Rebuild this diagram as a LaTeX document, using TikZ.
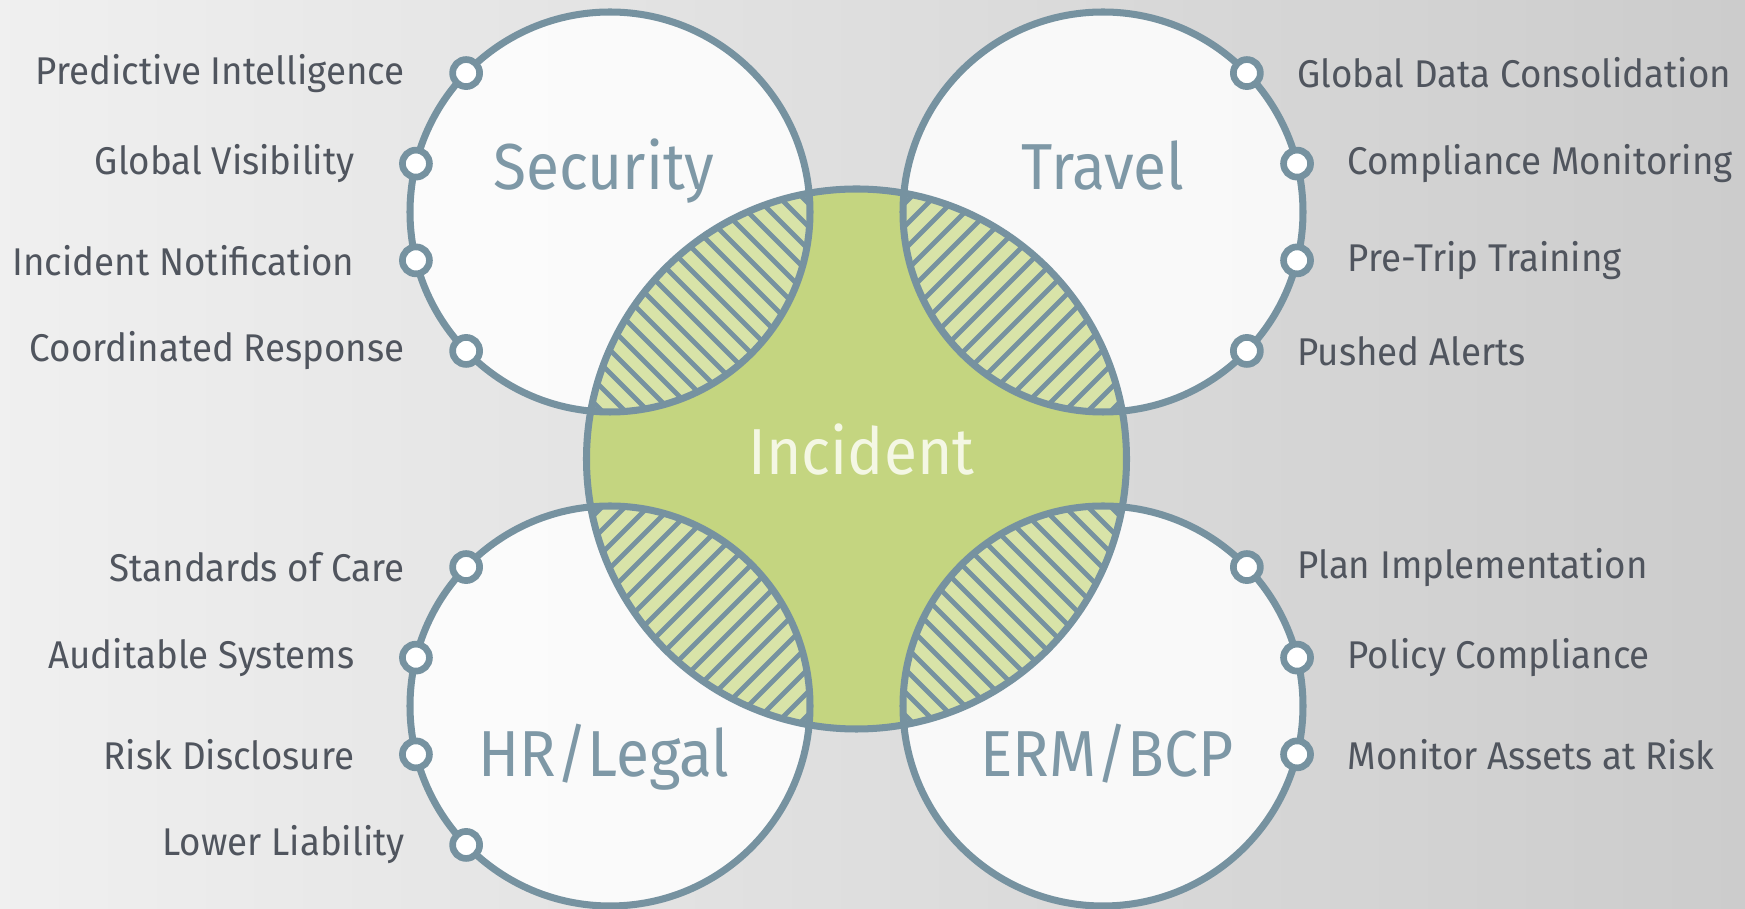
\documentclass[tikz,border=0pt]{standalone}
\usepackage{fontspec}
\setmainfont{Fira Sans}
\newfontfamily\itemfont{Fira Sans}[FakeStretch=0.95]
\newfontfamily\titlefont{Fira Sans}[FakeStretch=0.93]
\usetikzlibrary{positioning,calc}
\definecolor{ringblue}{HTML}{7692A0}
\definecolor{incgreen}{HTML}{C4D580}
\definecolor{hatchgreen}{HTML}{D8E3A8}
\definecolor{labelgray}{HTML}{50555E}
\definecolor{titleblue}{HTML}{7E98A6}
\definecolor{incwhite}{HTML}{F4F7E4}
\tikzset{
  ring/.style={draw=ringblue, line width=2pt},
  dot/.style={circle, draw=ringblue, line width=1.9pt, fill=white, minimum size=0.27cm, inner sep=0pt},
  item/.style={text=labelgray, font=\itemfont\fontsize{11}{13}\selectfont, inner sep=0pt},
  title/.style={text=titleblue, font=\titlefont\fontsize{18.5}{20}\selectfont, inner sep=0pt, anchor=base},
}
\begin{document}
\begin{tikzpicture}
\useasboundingbox (0,0) rectangle (17.45,9.09);
\shade[left color=black!6, right color=black!20] (0,0) rectangle (17.45,9.09);
\coordinate (inc) at (8.565,4.5);
\coordinate (sec) at (6.1,6.97);
\coordinate (trv) at (11.03,6.97);
\coordinate (hrl) at (6.1,2.03);
\coordinate (erm) at (11.03,2.03);
\foreach \c in {sec,trv,hrl,erm}
  \fill[white, opacity=0.85] (\c) circle (2);
\fill[incgreen] (inc) circle (2.7);
\foreach \c/\s in {sec/-1,trv/1,hrl/1,erm/-1}{
  \begin{scope}
    \clip (inc) circle (2.7);
    \clip (\c) circle (2);
    \fill[hatchgreen] (\c) circle (2);
    \foreach \k in {-28,...,28}
      \draw[ringblue, line width=1.4pt] ($(\c)+(\k*0.23-3,-3*\s)$) -- ++(6,6*\s);
  \end{scope}
}
\foreach \c in {sec,trv,hrl,erm}
  \draw[ring] (\c) circle (2);
\draw[ring] (inc) circle (2.7);
\node[title] (sectitle) at ($(sec)+(-0.06,0.22)$) {Security};
\node[title] (trvtitle) at ($(trv)+(0,0.22)$) {Travel};
\node[title] (hrltitle) at ($(hrl)+(-0.06,-0.71)$) {HR/Legal};
\node[title] (ermtitle) at ($(erm)+(0.04,-0.71)$) {ERM/BCP};
\node[title, text=incwhite] (inctitle) at ($(inc)+(0.05,-0.16)$) {Incident};
\foreach \a [count=\i] in {136,166,194,224}{
  \node[dot] (sec\i) at ($(sec)+(\a:2)$) {};
  \node[dot] (hrl\i) at ($(hrl)+(\a:2)$) {};
}
\foreach \a [count=\i] in {44,14,-14,-44}
  \node[dot] (trv\i) at ($(trv)+(\a:2)$) {};
\foreach \a [count=\i] in {44,14,-14}
  \node[dot] (erm\i) at ($(erm)+(\a:2)$) {};
\node[item, left=0.44cm of sec1] (predict) {Predictive Intelligence};
\node[item, left=0.44cm of sec2] (visible) {Global Visibility};
\node[item, left=0.44cm of sec3] (notify) {Incident Notification};
\node[item, left=0.44cm of sec4] (respond) {Coordinated Response};
\node[item, right=0.33cm of trv1] (consol) {Global Data Consolidation};
\node[item, right=0.33cm of trv2] (monitor) {Compliance Monitoring};
\node[item, right=0.33cm of trv3] (pretrip) {Pre-Trip Training};
\node[item, right=0.33cm of trv4] (alerts) {Pushed Alerts};
\node[item, left=0.44cm of hrl1] (care) {Standards of Care};
\node[item, left=0.44cm of hrl2] (audit) {Auditable Systems};
\node[item, left=0.44cm of hrl3] (disclose) {Risk Disclosure};
\node[item, left=0.44cm of hrl4] (liable) {Lower Liability};
\node[item, right=0.33cm of erm1] (plan) {Plan Implementation};
\node[item, right=0.33cm of erm2] (policy) {Policy Compliance};
\node[item, right=0.33cm of erm3] (assets) {Monitor Assets at Risk};
\end{tikzpicture}
\end{document}
